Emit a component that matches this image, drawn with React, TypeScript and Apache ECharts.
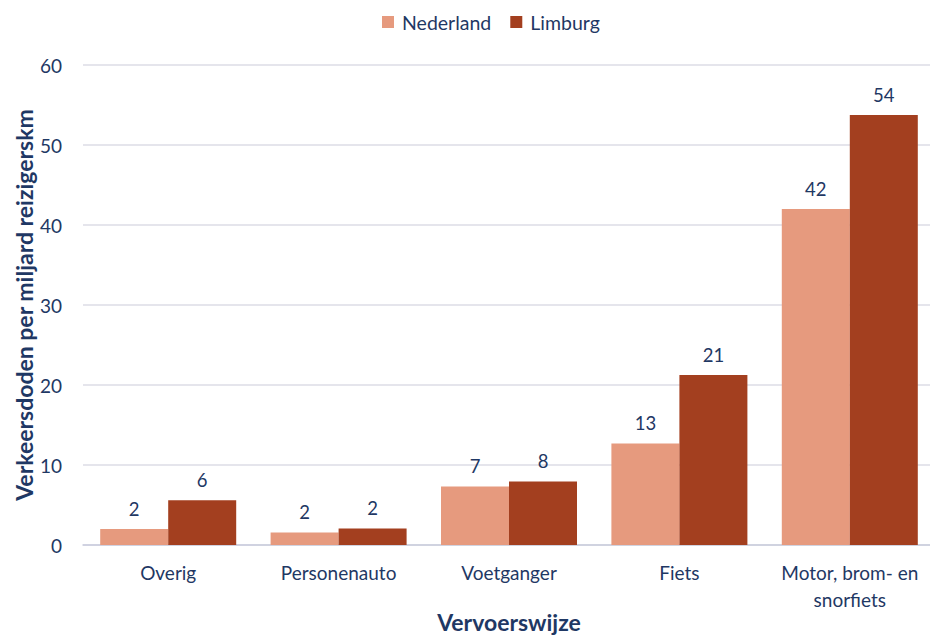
import React, { useEffect, useRef } from "react";
import * as echarts from "echarts";

const categories = ["Overig", "Personenauto", "Voetganger", "Fiets", "Motor, brom- en\nsnorfiets"];
const nederland = [2.0, 1.55, 7.3, 12.7, 42.0];
const limburg = [5.6, 2.05, 7.95, 21.25, 53.75];
const yTicks = { min: 0, max: 60, interval: 10 };

const textColor = "#1F3864";
const font = "Lato, 'Open Sans', sans-serif";

export default function App() {
  const ref = useRef<HTMLDivElement>(null);
  useEffect(() => {
    if (!ref.current) return;
    const chart = echarts.init(ref.current, undefined, { renderer: "svg" });
    const label = {
      show: true,
      position: "top" as const,
      distance: 11,
      color: textColor,
      fontSize: 18.5,
      fontFamily: font,
      formatter: (p: any) => String(Math.round(p.value)),
    };
    chart.setOption({
      animation: false,
      textStyle: { fontFamily: font },
      legend: {
        top: 7,
        left: 377,
        itemWidth: 12,
        itemHeight: 12,
        itemGap: 19,
        icon: "rect",
        textStyle: { color: textColor, fontSize: 19.5, fontFamily: font, padding: [0, 0, 0, 3] },
        data: ["Nederland", "Limburg"],
      },
      grid: { left: 83, top: 65, width: 852, height: 480, containLabel: false, outerBoundsMode: "none" },
      xAxis: {
        type: "category",
        data: categories,
        axisLine: { show: true, lineStyle: { color: "#C9CCDD", width: 1.5 } },
        axisTick: { show: false },
        axisLabel: { color: textColor, fontSize: 19, fontFamily: font, margin: 14, lineHeight: 27, interval: 0 },
        name: "Vervoerswijze",
        nameLocation: "middle",
        nameGap: 65,
        nameMoveOverlap: false,
        nameTextStyle: { color: textColor, fontSize: 23, fontWeight: "bold", fontFamily: font },
      },
      yAxis: {
        type: "value",
        min: yTicks.min,
        max: yTicks.max,
        interval: yTicks.interval,
        axisLine: { show: false },
        axisTick: { show: false },
        splitLine: { lineStyle: { color: "#DCDCE6", width: 1.5 } },
        axisLabel: { color: textColor, fontSize: 19, fontFamily: font, margin: 21 },
        name: "Verkeersdoden per miljard reizigerskm",
        nameLocation: "middle",
        nameGap: 48,
        nameRotate: 90,
        nameMoveOverlap: false,
        nameTextStyle: { color: textColor, fontSize: 23, fontWeight: "bold", fontFamily: font },
      },
      series: [
        {
          name: "Nederland",
          type: "bar",
          data: nederland,
          barWidth: 68,
          barGap: "0%",
          itemStyle: { color: "#E69A7E" },
          label,
        },
        {
          name: "Limburg",
          type: "bar",
          data: limburg,
          barWidth: 68,
          barGap: "0%",
          itemStyle: { color: "#A33F1F" },
          label,
        },
      ],
    });
    return () => chart.dispose();
  }, []);
  return <div ref={ref} style={{ width: 930, height: 635, position: "absolute", left: 0, top: 0 }} />;
}
